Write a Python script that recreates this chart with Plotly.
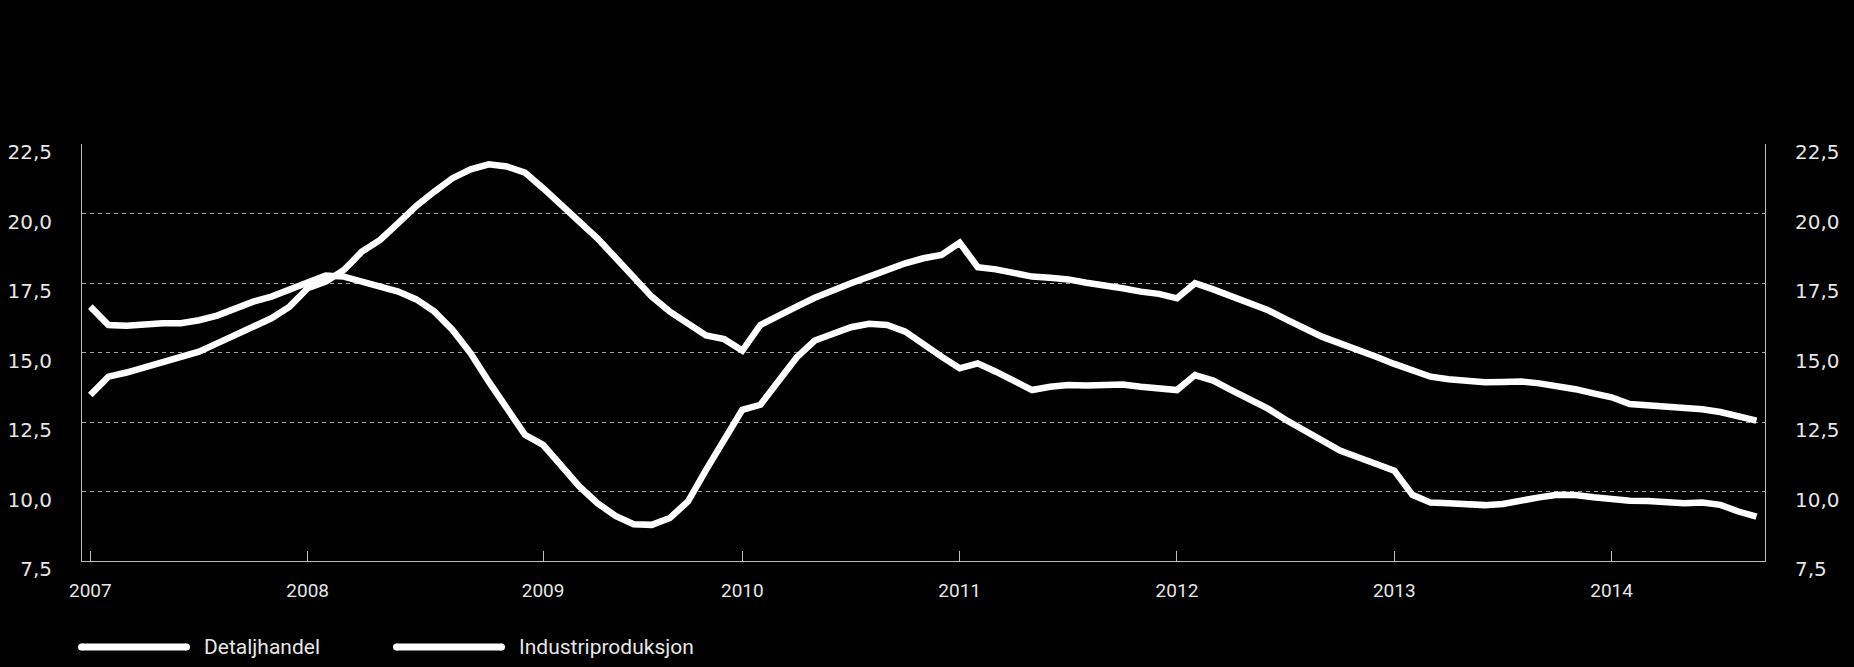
import plotly.graph_objects as go

# Monthly observations, Jan 2007 - Sep 2014 (index 0 = Jan 2007)
months = list(range(93))

detaljhandel = [
    16.65, 15.99, 15.96, 16.03, 16.05, 16.05, 16.16, 16.33, 16.59, 16.83, 17.01, 17.25,
    17.47, 17.77, 17.73, 17.55, 17.38, 17.19, 16.91, 16.47, 15.81, 14.97, 13.95, 12.96,
    12.04, 11.68, 10.90, 10.18, 9.58, 9.12, 8.82, 8.80, 9.05, 9.64, 10.78, 11.86,
    12.94, 13.12, 13.95, 14.82, 15.43, 15.69, 15.91, 16.03, 15.99, 15.75, 15.27, 14.85,
    14.43, 14.61, 14.31, 13.95, 13.65, 13.77, 13.83, 13.81, 13.85, 13.85, 13.77, 13.73,
    13.65, 14.19, 13.99, 13.65, 13.35, 12.99, 12.58, 12.19, 11.80, 11.47, 11.23, 10.99,
    10.75, 9.88, 9.60, 9.58, 9.55, 9.51, 9.55, 9.68, 9.79, 9.88, 9.87, 9.79,
    9.72, 9.67, 9.66, 9.60, 9.58, 9.60, 9.52, 9.28, 9.10,
]

industriproduksjon = [
    13.47, 14.13, 14.28, 14.46, 14.61, 14.79, 15.03, 15.33, 15.61, 15.93, 16.23, 16.65,
    17.31, 17.55, 17.97, 18.63, 19.05, 19.65, 20.27, 20.79, 21.27, 21.59, 21.77, 21.69,
    21.47, 20.91, 20.34, 19.71, 19.11, 18.39, 17.71, 17.01, 16.47, 16.05, 15.61, 15.48,
    15.07, 15.99, 16.29, 16.65, 16.97, 17.25, 17.49, 17.73, 17.99, 18.21, 18.39, 18.51,
    18.95, 18.07, 17.99, 17.87, 17.73, 17.69, 17.63, 17.51, 17.43, 17.31, 17.19, 17.11,
    16.95, 17.49, 17.27, 17.01, 16.75, 16.53, 16.20, 15.87, 15.57, 15.33, 15.12, 14.85,
    14.59, 14.34, 14.13, 14.04, 13.98, 13.93, 13.94, 13.96, 13.89, 13.80, 13.68, 13.53,
    13.39, 13.15, 13.10, 13.06, 13.02, 12.96, 12.86, 12.72, 12.55,
]

x_tick_positions = [0, 12, 25, 36, 48, 60, 72, 84]
x_tick_labels = ["2007", "2008", "2009", "2010", "2011", "2012", "2013", "2014"]
y_ticks = [7.5, 10.0, 12.5, 15.0, 17.5, 20.0, 22.5]
series_names = ["Detaljhandel", "Industriproduksjon"]

# ---- geometry / style ----
W, H = 1854, 667
ML, MR, MT, MB = 82, 89, 144, 106
PW, PH = W - ML - MR, H - MT - MB
AXIS_COLOR = "#bdbdbd"
TEXT_COLOR = "#e6e6e6"
FONT = "Roboto, 'DejaVu Sans', sans-serif"
YFONT = "'DejaVu Sans', sans-serif"

fig = go.Figure()
fig.add_trace(go.Scatter(x=months, y=detaljhandel, mode="lines", name=series_names[0],
                         line=dict(color="#ffffff", width=6.5), yaxis="y"))
fig.add_trace(go.Scatter(x=months, y=industriproduksjon, mode="lines", name=series_names[1],
                         line=dict(color="#ffffff", width=6.5), yaxis="y2"))

yaxis_common = dict(
    range=[7.5, 22.5], tickvals=y_ticks, tickformat=".1f",
    showline=True, linecolor=AXIS_COLOR, linewidth=1,
    ticks="", zeroline=False, automargin=False,
    tickfont=dict(family=YFONT, size=20, color=TEXT_COLOR),
    ticklabelstandoff=25, ticklabelshift=8,
)

fig.update_layout(
    width=W, height=H,
    margin=dict(l=ML, r=MR, t=MT, b=MB, pad=0, autoexpand=False),
    paper_bgcolor="#000000", plot_bgcolor="#000000",
    separators=", ",
    showlegend=False,
    xaxis=dict(
        range=[-0.46, 92.47], tickvals=x_tick_positions, ticktext=x_tick_labels,
        ticks="inside", ticklen=10, tickwidth=1, tickcolor=AXIS_COLOR,
        showline=True, linecolor=AXIS_COLOR, linewidth=1,
        showgrid=False, zeroline=False, automargin=False,
        tickfont=dict(family=FONT, size=19, color=TEXT_COLOR),
        ticklabelstandoff=12,
    ),
    yaxis=dict(**yaxis_common, side="left", showgrid=True, gridcolor="#a8a8a8",
               gridwidth=1, griddash="4px,4px"),
    yaxis2=dict(**yaxis_common, side="right", overlaying="y", showgrid=False),
)

# ---- legend drawn manually (long rounded line samples) ----
def px_to_paper_x(px):
    return (px - ML) / PW

def px_to_paper_y(py):
    return (H - MB - py) / PH

legend_y = px_to_paper_y(647)
legend_items = [(78, 190, 202), (393, 505, 517)]
for (x0, x1, tx), name in zip(legend_items, series_names):
    fig.add_shape(type="line", xref="paper", yref="paper",
                  x0=px_to_paper_x(x0 + 3.5), x1=px_to_paper_x(x1 - 3.5),
                  y0=legend_y, y1=legend_y,
                  line=dict(color="#ffffff", width=7))
    for cx in (x0 + 3.5, x1 - 3.5):
        fig.add_shape(type="circle", xref="paper", yref="paper",
                      xsizemode="pixel", ysizemode="pixel",
                      xanchor=px_to_paper_x(cx), yanchor=legend_y,
                      x0=-3.5, x1=3.5, y0=-3.5, y1=3.5,
                      fillcolor="#ffffff", line=dict(width=0))
    fig.add_annotation(xref="paper", yref="paper", x=px_to_paper_x(tx), y=legend_y,
                       text=name, showarrow=False, xanchor="left", yanchor="middle",
                       font=dict(family=FONT, size=21, color=TEXT_COLOR))

fig.write_html("out.html", config={"displayModeBar": False},
               post_script="document.body.style.margin='0';document.body.style.overflow='hidden';")
